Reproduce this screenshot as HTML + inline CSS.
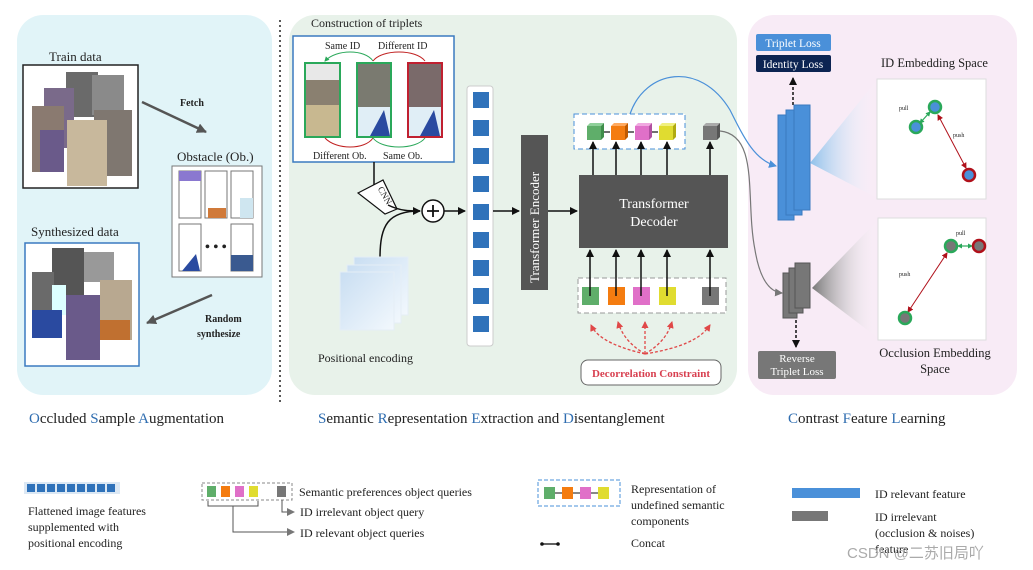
<!DOCTYPE html>
<html><head><meta charset="utf-8"><style>
html,body{margin:0;padding:0;background:#fff}
svg{display:block}
text{font-family:"Liberation Serif","Noto Serif CJK SC",serif;fill:#222}
</style></head><body>
<svg width="1033" height="570" viewBox="0 0 1033 570" xmlns="http://www.w3.org/2000/svg">
<defs>
<marker id="ab" markerWidth="8" markerHeight="8" refX="7" refY="4" orient="auto" markerUnits="userSpaceOnUse"><path d="M0,0 L8,4 L0,8 z" fill="#111"/></marker>
<marker id="ag" markerWidth="10" markerHeight="10" refX="9" refY="5" orient="auto" markerUnits="userSpaceOnUse"><path d="M0,0 L10,5 L0,10 z" fill="#555"/></marker>
<marker id="ar" markerWidth="7" markerHeight="7" refX="6" refY="3.5" orient="auto" markerUnits="userSpaceOnUse"><path d="M0,0 L7,3.5 L0,7 z" fill="#e04848"/></marker>
<marker id="abl" markerWidth="8" markerHeight="8" refX="7" refY="4" orient="auto" markerUnits="userSpaceOnUse"><path d="M0,0 L8,4 L0,8 z" fill="#4a90d9"/></marker>
<marker id="agr" markerWidth="8" markerHeight="8" refX="7" refY="4" orient="auto" markerUnits="userSpaceOnUse"><path d="M0,0 L8,4 L0,8 z" fill="#777"/></marker>
<marker id="am" markerWidth="6" markerHeight="6" refX="5" refY="3" orient="auto-start-reverse" markerUnits="userSpaceOnUse"><path d="M0,0 L6,3 L0,6 z" fill="#b0101a"/></marker>
<marker id="agn" markerWidth="5" markerHeight="5" refX="4" refY="2.5" orient="auto-start-reverse" markerUnits="userSpaceOnUse"><path d="M0,0 L5,2.5 L0,5 z" fill="#2aa85a"/></marker>
<linearGradient id="cb" x1="0" x2="1"><stop offset="0" stop-color="#8ec0ea"/><stop offset="1" stop-color="#fff" stop-opacity="0"/></linearGradient>
<linearGradient id="cg" x1="0" x2="1"><stop offset="0" stop-color="#777"/><stop offset="1" stop-color="#fff" stop-opacity="0"/></linearGradient>
<linearGradient id="pe" x1="0" y1="0" x2="1" y2="1"><stop offset="0" stop-color="#c9def2"/><stop offset="1" stop-color="#f2f8fd"/></linearGradient>
</defs>

<rect x="17" y="15" width="255" height="380" rx="26" fill="#e1f4f8"/>
<rect x="289" y="15" width="448" height="380" rx="26" fill="#e8f2ea"/>
<rect x="748" y="15" width="269" height="380" rx="26" fill="#f8ebf6"/>
<line x1="280" y1="20" x2="280" y2="405" stroke="#222" stroke-width="1.5" stroke-dasharray="2,3"/>

<text x="49" y="61" font-size="13">Train data</text>
<rect x="23" y="65" width="115" height="123" fill="#fff" stroke="#222" stroke-width="1.5"/>
<rect x="66" y="72" width="32" height="45" fill="#6a6a6a"/>
<rect x="92" y="75" width="32" height="40" fill="#8a8a8a"/>
<rect x="44" y="88" width="30" height="60" fill="#7a6a8a"/>
<rect x="32" y="106" width="32" height="66" fill="#8a7a70"/>
<rect x="94" y="110" width="38" height="66" fill="#7f7770"/>
<rect x="67" y="120" width="40" height="66" fill="#c8b89c"/>
<rect x="40" y="130" width="24" height="42" fill="#6a5a8a"/>
<text x="180" y="106" font-size="10" font-weight="bold" fill="#444">Fetch</text>
<line x1="142" y1="102" x2="206" y2="132" stroke="#555" stroke-width="2.5" marker-end="url(#ag)"/>
<text x="177" y="161" font-size="13">Obstacle (Ob.)</text>
<rect x="172" y="166" width="90" height="111" fill="#fff" stroke="#777" stroke-width="1"/>
<rect x="179" y="171" width="22" height="47" fill="#fff" stroke="#777"/>
<rect x="179" y="171" width="22" height="10" fill="#8a78d0"/>
<rect x="205" y="171" width="22" height="47" fill="#fff" stroke="#777"/>
<rect x="208" y="208" width="18" height="10" fill="#d07a3a"/>
<rect x="231" y="171" width="22" height="47" fill="#fff" stroke="#777"/>
<rect x="240" y="198" width="13" height="20" fill="#cfe6f0"/>
<rect x="179" y="224" width="22" height="47" fill="#fff" stroke="#777"/>
<polygon points="182,271 200,271 196,254" fill="#2a4aa0"/>
<rect x="231" y="224" width="22" height="47" fill="#fff" stroke="#777"/>
<rect x="231" y="255" width="22" height="16" fill="#3a5a90"/>
<text x="205" y="251" font-size="14" font-weight="bold">• • •</text>
<text x="31" y="236" font-size="13">Synthesized data</text>
<rect x="25" y="243" width="114" height="123" fill="#fff" stroke="#3a7ac0" stroke-width="1.5"/>
<rect x="52" y="248" width="32" height="50" fill="#555"/>
<rect x="84" y="252" width="30" height="30" fill="#999"/>
<rect x="32" y="272" width="22" height="66" fill="#6a6a6a"/>
<rect x="52" y="285" width="14" height="30" fill="#dff"/>
<rect x="32" y="310" width="30" height="28" fill="#2a4aa0"/>
<rect x="100" y="280" width="32" height="60" fill="#b8a890"/>
<rect x="66" y="295" width="34" height="65" fill="#6a5a8a"/>
<rect x="100" y="320" width="30" height="20" fill="#c07030"/>
<text x="205" y="322" font-size="10" font-weight="bold" fill="#444">Random</text>
<text x="197" y="337" font-size="10" font-weight="bold" fill="#444">synthesize</text>
<line x1="212" y1="295" x2="147" y2="323" stroke="#555" stroke-width="2.5" marker-end="url(#ag)"/>

<text x="311" y="27" font-size="12">Construction of triplets</text>
<rect x="293" y="36" width="161" height="126" fill="#fff" stroke="#3a7ac0" stroke-width="1.5"/>
<text x="325" y="49" font-size="10">Same ID</text>
<text x="378" y="49" font-size="10">Different ID</text>
<path d="M373,61 C365,49 336,49 325,61" fill="none" stroke="#2aa85a" stroke-width="1" marker-end="url(#agn)"/>
<path d="M373,61 C382,49 416,49 425,61" fill="none" stroke="#c02020" stroke-width="1"/>
<rect x="305" y="63" width="35" height="74" fill="#8a8070" stroke="#2aa85a" stroke-width="2"/>
<rect x="306" y="64" width="33" height="16" fill="#e8e8e8"/>
<rect x="306" y="105" width="33" height="31" fill="#c8b890"/>
<rect x="357" y="63" width="34" height="74" fill="#7a7a70" stroke="#2aa85a" stroke-width="2"/>
<rect x="358" y="107" width="32" height="29" fill="#e0eef6"/>
<polygon points="370,136 390,136 384,110" fill="#2a4aa0"/>
<rect x="408" y="63" width="34" height="74" fill="#7a6a6a" stroke="#c02030" stroke-width="2"/>
<rect x="409" y="107" width="32" height="29" fill="#e0eef6"/>
<polygon points="420,136 440,136 434,110" fill="#2a4aa0"/>
<path d="M373,138 C365,150 336,150 325,138" fill="none" stroke="#c02020" stroke-width="1"/>
<path d="M373,138 C382,150 416,150 425,138" fill="none" stroke="#2aa85a" stroke-width="1"/>
<text x="313" y="159" font-size="10">Different Ob.</text>
<text x="383" y="159" font-size="10">Same Ob.</text>
<line x1="374" y1="162" x2="374" y2="190" stroke="#111" stroke-width="1.5"/>
<polygon points="358,193 383,180 397,209 385,214" fill="#fff" stroke="#111" stroke-width="1.2"/>
<text x="371" y="192" font-size="9" transform="rotate(60 377 196)">CNN</text>
<path d="M388,205 C400,211 410,211 420,211" fill="none" stroke="#111" stroke-width="1.5" marker-end="url(#ab)"/>
<path d="M380,258 C380,225 388,211 420,211" fill="none" stroke="#111" stroke-width="1.5"/>
<circle cx="433" cy="211" r="11" fill="#fff" stroke="#111" stroke-width="1.5"/>
<path d="M427,211 H439 M433,205 V217" stroke="#111" stroke-width="1.8"/>
<line x1="444" y1="211" x2="465" y2="211" stroke="#111" stroke-width="1.5" marker-end="url(#ab)"/>
<rect x="354" y="257" width="54" height="58" fill="url(#pe)" stroke="#e5eef6"/>
<rect x="347" y="265" width="54" height="58" fill="url(#pe)" stroke="#e5eef6"/>
<rect x="340" y="272" width="54" height="58" fill="url(#pe)" stroke="#e5eef6"/>
<text x="318" y="362" font-size="12">Positional encoding</text>
<rect x="467" y="86" width="26" height="260" rx="3" fill="#fff" stroke="#ccc"/>
<g fill="#2f72ba">
<rect x="473" y="92" width="16" height="16"/><rect x="473" y="120" width="16" height="16"/><rect x="473" y="148" width="16" height="16"/>
<rect x="473" y="176" width="16" height="16"/><rect x="473" y="204" width="16" height="16"/><rect x="473" y="232" width="16" height="16"/>
<rect x="473" y="260" width="16" height="16"/><rect x="473" y="288" width="16" height="16"/><rect x="473" y="316" width="16" height="16"/>
</g>
<line x1="493" y1="211" x2="519" y2="211" stroke="#111" stroke-width="1.5" marker-end="url(#ab)"/>
<rect x="521" y="135" width="27" height="155" fill="#555"/>
<text x="0" y="0" font-size="13" style="fill:#fff" transform="translate(539,283) rotate(-90)">Transformer Encoder</text>
<line x1="548" y1="211" x2="577" y2="211" stroke="#111" stroke-width="1.5" marker-end="url(#ab)"/>
<rect x="579" y="175" width="149" height="73" fill="#555"/>
<text x="654" y="208" font-size="14" text-anchor="middle" style="fill:#fff">Transformer</text>
<text x="654" y="226" font-size="14" text-anchor="middle" style="fill:#fff">Decoder</text>
<rect x="574" y="114" width="111" height="35" fill="#fff" stroke="#4a90d9" stroke-dasharray="5,3"/>
<g stroke="#111" stroke-width="1.2"><line x1="601" y1="132" x2="610" y2="132"/><line x1="625" y1="132" x2="634" y2="132"/><line x1="649" y1="132" x2="658" y2="132"/></g>
<rect x="587" y="126" width="14" height="14" fill="#5fae6a"/><polygon points="587,126 590,123 604,123 601,126" fill="#8fd09a"/><polygon points="601,126 604,123 604,137 601,140" fill="#3f8e4a"/>
<rect x="611" y="126" width="14" height="14" fill="#f47c10"/><polygon points="611,126 614,123 628,123 625,126" fill="#ffaa60"/><polygon points="625,126 628,123 628,137 625,140" fill="#c05a00"/>
<rect x="635" y="126" width="14" height="14" fill="#e070c8"/><polygon points="635,126 638,123 652,123 649,126" fill="#f0a8e0"/><polygon points="649,126 652,123 652,137 649,140" fill="#b050a0"/>
<rect x="659" y="126" width="14" height="14" fill="#e0dc30"/><polygon points="659,126 662,123 676,123 673,126" fill="#f0f080"/><polygon points="673,126 676,123 676,137 673,140" fill="#b0aa10"/>
<rect x="703" y="126" width="14" height="14" fill="#777"/><polygon points="703,126 706,123 720,123 717,126" fill="#aaa"/><polygon points="717,126 720,123 720,137 717,140" fill="#555"/>
<g stroke="#111" stroke-width="1.5" marker-end="url(#ab)">
<line x1="593" y1="175" x2="593" y2="142"/><line x1="616" y1="175" x2="616" y2="142"/><line x1="641" y1="175" x2="641" y2="142"/><line x1="667" y1="175" x2="667" y2="142"/><line x1="710" y1="175" x2="710" y2="142"/>
</g>
<rect x="578" y="278" width="148" height="35" fill="#fff" stroke="#999" stroke-dasharray="5,3"/>
<rect x="582" y="287" width="17" height="18" fill="#5fae6a"/><rect x="608" y="287" width="17" height="18" fill="#f47c10"/>
<rect x="633" y="287" width="17" height="18" fill="#e070c8"/><rect x="659" y="287" width="17" height="18" fill="#e0dc30"/>
<rect x="702" y="287" width="17" height="18" fill="#777"/>
<g stroke="#111" stroke-width="1.5" marker-end="url(#ab)">
<line x1="590" y1="296" x2="590" y2="250"/><line x1="616" y1="296" x2="616" y2="250"/><line x1="641" y1="296" x2="641" y2="250"/><line x1="667" y1="296" x2="667" y2="250"/><line x1="710" y1="296" x2="710" y2="250"/>
</g>
<g fill="none" stroke="#e04848" stroke-width="1.3" stroke-dasharray="3,2" marker-end="url(#ar)">
<path d="M645,354 C620,348 598,340 591,325"/><path d="M645,354 C630,345 622,335 618,322"/><path d="M645,354 L645,322"/><path d="M645,354 C660,345 668,335 672,322"/><path d="M645,354 C680,348 700,340 710,325"/>
</g>
<rect x="581" y="360" width="140" height="25" rx="7" fill="#fff" stroke="#666"/>
<text x="651" y="377" font-size="11" font-weight="bold" text-anchor="middle" style="fill:#d84050">Decorrelation Constraint</text>
<path d="M630,114 C645,70 700,60 730,110 C745,140 755,160 776,166" fill="none" stroke="#4a90d9" stroke-width="1.2" marker-end="url(#abl)"/>
<path d="M720,131 C760,135 745,200 755,250 C760,280 770,292 782,293" fill="none" stroke="#777" stroke-width="1.2" marker-end="url(#agr)"/>

<rect x="756" y="34" width="75" height="17" rx="2" fill="#4a90d9"/>
<text x="793" y="47" font-size="11.5" text-anchor="middle" style="fill:#fff">Triplet Loss</text>
<rect x="756" y="55" width="75" height="17" rx="2" fill="#0c2452"/>
<text x="793" y="68" font-size="11.5" text-anchor="middle" style="fill:#fff">Identity Loss</text>
<line x1="793" y1="105" x2="793" y2="78" stroke="#111" stroke-width="1.5" stroke-dasharray="3,2" marker-end="url(#ab)"/>
<rect x="778" y="115" width="16" height="105" fill="#4a90d9" stroke="#3a7ac0"/>
<rect x="786" y="110" width="16" height="105" fill="#4a90d9" stroke="#3a7ac0"/>
<rect x="794" y="105" width="16" height="105" fill="#4a90d9" stroke="#3a7ac0"/>
<polygon points="810,163 877,80 877,198" fill="url(#cb)"/>
<text x="881" y="67" font-size="12.5">ID Embedding Space</text>
<rect x="877" y="79" width="109" height="120" fill="#fff" stroke="#ddd"/>
<text x="899" y="110" font-size="6">pull</text>
<text x="953" y="137" font-size="6">push</text>
<line x1="920" y1="123" x2="930" y2="112" stroke="#2aa85a" stroke-width="1.2" marker-start="url(#agn)" marker-end="url(#agn)"/>
<line x1="938" y1="115" x2="966" y2="168" stroke="#b0101a" stroke-width="1" marker-start="url(#am)" marker-end="url(#am)"/>
<circle cx="916" cy="127" r="6" fill="#4a90d9" stroke="#2aa85a" stroke-width="2.5"/>
<circle cx="935" cy="107" r="6" fill="#4a90d9" stroke="#2aa85a" stroke-width="2.5"/>
<circle cx="969" cy="175" r="6" fill="#4a90d9" stroke="#b0101a" stroke-width="2.5"/>
<rect x="783" y="273" width="14" height="45" fill="#777" stroke="#555"/>
<rect x="789" y="268" width="14" height="45" fill="#777" stroke="#555"/>
<rect x="795" y="263" width="15" height="45" fill="#777" stroke="#555"/>
<polygon points="812,288 878,220 878,338" fill="url(#cg)"/>
<rect x="878" y="218" width="108" height="122" fill="#fff" stroke="#ddd"/>
<text x="956" y="235" font-size="6">pull</text>
<text x="899" y="276" font-size="6">push</text>
<line x1="958" y1="246" x2="972" y2="246" stroke="#2aa85a" stroke-width="1.2" marker-start="url(#agn)" marker-end="url(#agn)"/>
<line x1="947" y1="253" x2="908" y2="312" stroke="#b0101a" stroke-width="1" marker-start="url(#am)" marker-end="url(#am)"/>
<circle cx="951" cy="246" r="6" fill="#777" stroke="#2aa85a" stroke-width="2.5"/>
<circle cx="979" cy="246" r="6" fill="#777" stroke="#b0101a" stroke-width="2.5"/>
<circle cx="905" cy="318" r="6" fill="#777" stroke="#2aa85a" stroke-width="2.5"/>
<line x1="796" y1="320" x2="796" y2="347" stroke="#111" stroke-width="1.5" stroke-dasharray="3,2" marker-end="url(#ab)"/>
<rect x="758" y="351" width="78" height="28" rx="2" fill="#777"/>
<text x="797" y="362" font-size="11" text-anchor="middle" style="fill:#fff">Reverse</text>
<text x="797" y="375" font-size="11" text-anchor="middle" style="fill:#fff">Triplet Loss</text>
<text x="935" y="357" font-size="12.5" text-anchor="middle">Occlusion Embedding</text>
<text x="935" y="373" font-size="12.5" text-anchor="middle">Space</text>

<text x="29" y="423" font-size="15"><tspan style="fill:#2f6db0">O</tspan>ccluded  <tspan style="fill:#2f6db0">S</tspan>ample <tspan style="fill:#2f6db0">A</tspan>ugmentation</text>
<text x="318" y="423" font-size="15"><tspan style="fill:#2f6db0">S</tspan>emantic <tspan style="fill:#2f6db0">R</tspan>epresentation <tspan style="fill:#2f6db0">E</tspan>xtraction and <tspan style="fill:#2f6db0">D</tspan>isentanglement</text>
<text x="788" y="423" font-size="15"><tspan style="fill:#2f6db0">C</tspan>ontrast <tspan style="fill:#2f6db0">F</tspan>eature <tspan style="fill:#2f6db0">L</tspan>earning</text>

<rect x="24" y="482" width="96" height="12" fill="#dce8f4"/>
<g fill="#2f72ba"><rect x="27" y="484" width="8" height="8"/><rect x="37" y="484" width="8" height="8"/><rect x="47" y="484" width="8" height="8"/><rect x="57" y="484" width="8" height="8"/><rect x="67" y="484" width="8" height="8"/><rect x="77" y="484" width="8" height="8"/><rect x="87" y="484" width="8" height="8"/><rect x="97" y="484" width="8" height="8"/><rect x="107" y="484" width="8" height="8"/></g>
<text x="28" y="515" font-size="12">Flattened image features</text>
<text x="28" y="531" font-size="12">supplemented with</text>
<text x="28" y="547" font-size="12">positional encoding</text>
<rect x="202" y="483" width="90" height="17" fill="#fff" stroke="#888" stroke-dasharray="3,2"/>
<rect x="207" y="486" width="9" height="11" fill="#5fae6a"/><rect x="221" y="486" width="9" height="11" fill="#f47c10"/><rect x="235" y="486" width="9" height="11" fill="#e070c8"/><rect x="249" y="486" width="9" height="11" fill="#e0dc30"/><rect x="277" y="486" width="9" height="11" fill="#777"/>
<path d="M208,501 V506 H258 V501" fill="none" stroke="#555"/>
<path d="M233,506 V532 H294" fill="none" stroke="#555" marker-end="url(#agr)"/>
<path d="M282,500 V512 H294" fill="none" stroke="#555" marker-end="url(#agr)"/>
<text x="299" y="496" font-size="12">Semantic preferences object queries</text>
<text x="300" y="516" font-size="12">ID irrelevant object query</text>
<text x="300" y="537" font-size="12">ID relevant object queries</text>
<rect x="538" y="480" width="82" height="26" fill="#fff" stroke="#4a90d9" stroke-dasharray="4,2"/>
<g stroke="#111"><line x1="552" y1="493" x2="582" y2="493"/><line x1="582" y1="493" x2="606" y2="493"/></g>
<rect x="544" y="487" width="11" height="12" fill="#5fae6a"/><rect x="562" y="487" width="11" height="12" fill="#f47c10"/><rect x="580" y="487" width="11" height="12" fill="#e070c8"/><rect x="598" y="487" width="11" height="12" fill="#e0dc30"/>
<text x="631" y="493" font-size="12">Representation of</text>
<text x="631" y="509" font-size="12">undefined semantic</text>
<text x="631" y="525" font-size="12">components</text>
<line x1="542" y1="544" x2="558" y2="544" stroke="#111" stroke-width="1.3"/>
<circle cx="542" cy="544" r="1.8" fill="#111"/><circle cx="558" cy="544" r="1.8" fill="#111"/>
<text x="631" y="547" font-size="12">Concat</text>
<rect x="792" y="488" width="68" height="10" fill="#4a90d9"/>
<text x="875" y="498" font-size="12">ID relevant  feature</text>
<rect x="792" y="511" width="36" height="10" fill="#777"/>
<text x="875" y="521" font-size="12">ID irrelevant</text>
<text x="875" y="537" font-size="12">(occlusion &amp; noises)</text>
<text x="875" y="553" font-size="12">feature</text>
<text x="847" y="558" font-size="15" style="fill:#aaa;font-family:'Liberation Sans','Noto Sans CJK SC',sans-serif">CSDN @二苏旧局吖</text>
</svg>
</body></html>
